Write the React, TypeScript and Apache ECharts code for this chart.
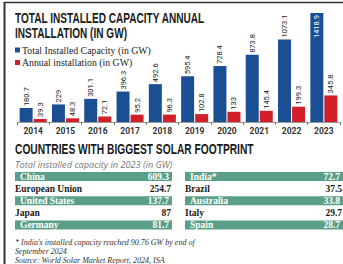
import React, { useEffect, useRef } from "react";
import * as echarts from "echarts";

const years = ["2014", "2015", "2016", "2017", "2018", "2019", "2020", "2021", "2022", "2023"];
const totalCapacity = [180.7, 229, 301.1, 396.3, 492.6, 595.4, 728.4, 873.8, 1073.1, 1418.9];
const annualInstallation = [39.3, 48.3, 72.1, 95.2, 96.3, 102.8, 133, 145.4, 199.3, 345.8];

const leftCountries = ["China", "European Union", "United States", "Japan", "Germany"];
const leftValues = ["609.3", "254.7", "137.7", "87", "81.7"];
const rightCountries = ["India*", "Brazil", "Australia", "Italy", "Spain"];
const rightValues = ["72.7", "37.5", "33.8", "29.7", "28.7"];

const footnotes = [
  "* India's installed capacity reached 90.76 GW by end of",
  "September 2024",
  "Source: World Solar Market Report, 2024, ISA",
];

const BLUE = "#1b4f93";
const RED = "#d2202a";
const TEAL = "#5c9f88";
const TITLE = '"Liberation Sans", Arial, sans-serif';
const NARROW = 'Roboto, "Liberation Sans", sans-serif';
const SERIF = '"Liberation Serif", "DejaVu Serif", serif';

export default function App() {
  const ref = useRef<HTMLDivElement>(null);
  useEffect(() => {
    if (!ref.current) return;
    const chart = echarts.init(ref.current, undefined, { renderer: "svg" });
    const last = years.length - 1;

    const graphic: any[] = [
      { type: "line", shape: { x1: 4, y1: 2.5, x2: 343, y2: 2.5 }, style: { stroke: "#333", lineWidth: 1.5 } },
      { type: "line", shape: { x1: 4.5, y1: 2, x2: 4.5, y2: 264 }, style: { stroke: "#333", lineWidth: 2 } },
      {
        type: "text", x: 15, y: 17.5, scaleX: 0.65, scaleY: 1,
        style: { text: "TOTAL INSTALLED CAPACITY ANNUAL", fontFamily: TITLE, fontWeight: "bold", fontSize: 15.5, fill: "#1a1a1a", verticalAlign: "middle" },
      },
      {
        type: "text", x: 15, y: 32.5, scaleX: 0.65, scaleY: 1,
        style: { text: "INSTALLATION (IN GW)", fontFamily: TITLE, fontWeight: "bold", fontSize: 15.5, fill: "#1a1a1a", verticalAlign: "middle" },
      },
      {
        type: "text", x: 15, y: 149, scaleX: 0.66, scaleY: 1,
        style: { text: "COUNTRIES WITH BIGGEST SOLAR FOOTPRINT", fontFamily: TITLE, fontWeight: "bold", fontSize: 15.5, fill: "#1a1a1a", verticalAlign: "middle" },
      },
      {
        type: "text", x: 15, y: 164,
        style: { text: "Total installed capacity in 2023 (in GW)", fontFamily: '"Open Sans", sans-serif', fontStyle: "italic", fontSize: 9.2, fill: "#777", verticalAlign: "middle" },
      },
    ];

    const rowY = (i: number) => 176.6 + i * 12.1;
    const addColumn = (names: string[], values: string[], x0: number, w: number) => {
      names.forEach((name, i) => {
        const banded = i % 2 === 0;
        const y = rowY(i);
        if (banded) {
          graphic.push({ type: "rect", shape: { x: x0, y: y - 4.5, width: w, height: 9 }, style: { fill: TEAL } });
        }
        graphic.push({
          type: "text", x: banded ? x0 + 5 : x0, y,
          style: { text: name, fontFamily: SERIF, fontWeight: "bold", fontSize: 9.5, fill: banded ? "#fff" : "#1a1a1a", verticalAlign: "middle" },
        });
        graphic.push({
          type: "text", x: banded ? x0 + w - 3 : x0 + w - 1, y,
          style: { text: values[i], fontFamily: SERIF, fontWeight: "bold", fontSize: 9.5, fill: banded ? "#fff" : "#1a1a1a", verticalAlign: "middle", align: "right" },
        });
      });
    };
    addColumn(leftCountries, leftValues, 15, 157);
    addColumn(rightCountries, rightValues, 185, 158);

    footnotes.forEach((t, i) => {
      graphic.push({
        type: "text", x: 15, y: 242.5 + i * 9,
        style: { text: t, fontFamily: SERIF, fontStyle: "italic", fontSize: 8, fill: "#333", verticalAlign: "middle" },
      });
    });

    const labelStyle = {
      show: true, position: "top", rotate: 90, align: "left", verticalAlign: "middle", distance: 2,
      fontFamily: NARROW, fontSize: 7.5, color: "#222",
    };

    chart.setOption({
      animation: false,
      backgroundColor: "#fff",
      grid: { left: 17, right: 3, top: 13, bottom: 142, containLabel: false },
      legend: {
        orient: "vertical", left: 15, top: 45, itemWidth: 5, itemHeight: 5, itemGap: 2.5, padding: 0,
        icon: "rect",
        textStyle: { fontFamily: SERIF, fontSize: 9.8, color: "#222", padding: [0, 0, 0, -3] },
        data: ["Total Installed Capacity (in GW)", "Annual installation (in GW)"],
      },
      xAxis: {
        type: "category",
        data: years,
        axisLine: { lineStyle: { color: "#9a9a9a", width: 1 } },
        axisTick: { show: true, length: 3, lineStyle: { color: "#777" } },
        axisLabel: { fontFamily: NARROW, fontWeight: "bold", fontSize: 8.5, color: "#333", margin: 4 },
      },
      yAxis: { type: "value", min: 0, max: 1418.9, show: false, splitLine: { show: false } },
      series: [
        {
          type: "bar",
          name: "Total Installed Capacity (in GW)",
          barWidth: 13,
          barGap: "8%",
          itemStyle: { color: BLUE },
          label: labelStyle,
          data: totalCapacity.map((v, i) =>
            i === last
              ? { value: v, label: { position: "insideTop", align: "right", color: "#fff", distance: 2 } }
              : v
          ),
        },
        {
          type: "bar",
          name: "Annual installation (in GW)",
          barWidth: 13,
          itemStyle: { color: RED },
          label: labelStyle,
          data: annualInstallation,
        },
      ],
      graphic,
    });
    return () => chart.dispose();
  }, []);

  return (
    <div
      ref={ref}
      style={{ position: "absolute", left: 0, top: 0, width: 343, height: 264, background: "#fff" }}
    />
  );
}
